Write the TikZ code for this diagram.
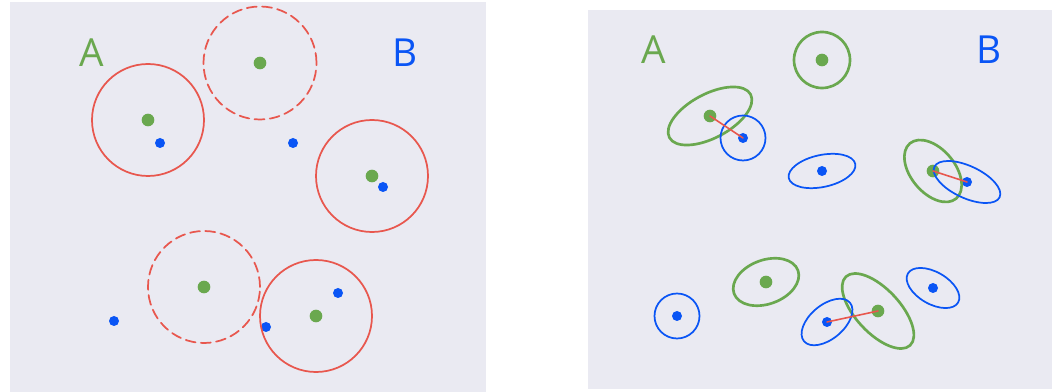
\documentclass[tikz,border=0pt]{standalone}
\usepackage{fontspec}
\setsansfont{Open Sans}
\usepackage{tikz}
\definecolor{bgpanel}{HTML}{EAEAF2}
\definecolor{ptgreen}{HTML}{6AA84F}
\definecolor{ptblue}{HTML}{0A55F5}
\definecolor{ptred}{HTML}{E8574E}
\tikzset{
  gdot/.style={circle,fill=ptgreen,inner sep=0pt,minimum size=9.5pt},
  bdot/.style={circle,fill=ptblue,inner sep=0pt,minimum size=7.5pt},
  lbl/.style={font=\sffamily\fontsize{29}{29}\selectfont,inner sep=0pt},
  match/.style={draw=ptred,line width=1.3pt},
  unmatch/.style={draw=ptred,line width=1.3pt,dash pattern=on 7.5pt off 4pt},
  gring/.style={draw=ptgreen,line width=2pt},
  bring/.style={draw=ptblue,line width=1.3pt},
  link/.style={draw=ptred,line width=1.2pt}
}

\begin{document}
\begin{tikzpicture}[line cap=round,line join=round,x=0.75pt,y=0.75pt]
\useasboundingbox (0,0) rectangle (1052,392);
\fill[bgpanel] (10,0) rectangle (486,390);
\fill[bgpanel] (588,3) rectangle (1052,382);
% left panel
\node[lbl,text=ptgreen] (lA) at (92,339) {A};
\node[lbl,text=ptblue] (lB) at (405,339) {B};
\node[gdot] (lg1) at (260,329) {};
\node[gdot] (lg2) at (148,272) {};
\node[gdot] (lg3) at (372,216) {};
\node[gdot] (lg4) at (204,105) {};
\node[gdot] (lg5) at (316,76) {};
\node[bdot] (lb1) at (160,249) {};
\node[bdot] (lb2) at (293,249) {};
\node[bdot] (lb3) at (383,205) {};
\node[bdot] (lb4) at (114,71) {};
\node[bdot] (lb5) at (338,99) {};
\node[bdot] (lb6) at (266,65) {};
\draw[unmatch] (lg1.center) circle (56.5);
\draw[match] (lg2.center) circle (56);
\draw[match] (lg3.center) circle (56);
\draw[unmatch] (lg4.center) circle (56);
\draw[match] (lg5.center) circle (56);
% right panel
\node[lbl,text=ptgreen] (rA) at (654,342) {A};
\node[lbl,text=ptblue] (rB) at (989,342) {B};
\node[gdot] (rg1) at (822,332) {};
\node[gdot] (rg2) at (710,276) {};
\node[gdot] (rg3) at (933,221) {};
\node[gdot] (rg4) at (766,110) {};
\node[gdot] (rg5) at (878,81) {};
\node[bdot] (rb1) at (743,254) {};
\node[bdot] (rb2) at (822,221) {};
\node[bdot] (rb3) at (967,210) {};
\node[bdot] (rb4) at (677,76) {};
\node[bdot] (rb5) at (827,70) {};
\node[bdot] (rb6) at (933,104) {};
\draw[gring] (rg1.center) circle (28);
\draw[gring,rotate around={28:(rg2.center)}] (rg2.center) ellipse (46 and 22);
\draw[gring,rotate around={-50:(rg3.center)}] (rg3.center) ellipse (36 and 22);
\draw[gring,rotate around={20:(rg4.center)}] (rg4.center) ellipse (34 and 22);
\draw[gring,rotate around={-47:(rg5.center)}] (rg5.center) ellipse (47 and 22);
\draw[bring] (rb1.center) circle (22.5);
\draw[bring,rotate around={12:(rb2.center)}] (rb2.center) ellipse (34 and 16);
\draw[bring,rotate around={-25:(rb3.center)}] (rb3.center) ellipse (36 and 16);
\draw[bring] (rb4.center) circle (22.5);
\draw[bring,rotate around={40:(rb5.center)}] (rb5.center) ellipse (30 and 17);
\draw[bring,rotate around={-30:(rb6.center)}] (rb6.center) ellipse (29 and 16);
\draw[link] (rg2.center) -- (rb1.center);
\draw[link] (rg3.center) -- (rb3.center);
\draw[link] (rg5.center) -- (rb5.center);
\end{tikzpicture}
\end{document}
